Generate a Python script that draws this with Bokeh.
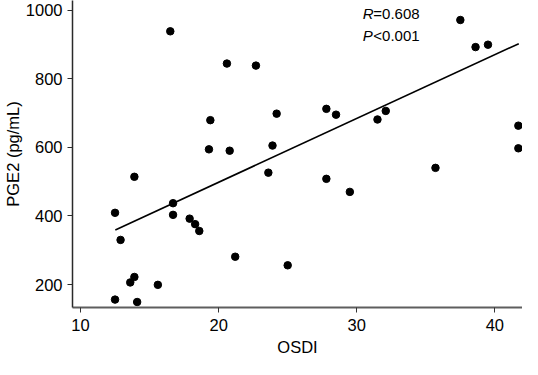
from bokeh.plotting import figure
from bokeh.models import Range1d, FixedTicker, Label, ColumnDataSource
from bokeh.embed import file_html
from bokeh.resources import INLINE

# Data
osdi = [12.5, 12.5, 12.9, 13.6, 13.9, 13.9, 14.1, 15.6, 16.5, 16.7, 16.7, 17.9,
        18.3, 18.6, 19.3, 19.4, 20.6, 20.8, 21.2, 22.7, 23.6, 23.9, 24.2, 25.0,
        27.8, 27.8, 28.5, 29.5, 31.5, 32.1, 35.7, 37.5, 38.6, 39.5, 41.7, 41.7]
pge2 = [156, 409, 330, 206, 222, 514, 149, 199, 938, 437, 403, 392,
        376, 356, 594, 679, 844, 590, 281, 838, 526, 605, 698, 256,
        712, 508, 695, 470, 681, 706, 540, 971, 892, 899, 663, 597]

fit_x = [12.52, 41.73]
fit_y = [359, 902]

x_ticks = [10, 20, 30, 40]
y_ticks = [200, 400, 600, 800, 1000]

FONT = "Liberation Sans"

p = figure(width=522, height=359, output_backend="svg", toolbar_location=None,
           x_range=Range1d(9.42, 42.0), y_range=Range1d(133, 1027.8),
           min_border_left=67, min_border_right=0, min_border_top=0,
           min_border_bottom=52)

p.outline_line_color = None
p.xgrid.visible = False
p.ygrid.visible = False
p.background_fill_color = "white"
p.border_fill_color = "white"

src = ColumnDataSource(dict(x=osdi, y=pge2))
p.scatter("x", "y", source=src, size=7.5, color="black")
p.line(fit_x, fit_y, line_color="black", line_width=1.6)

p.xaxis.ticker = FixedTicker(ticks=x_ticks)
p.yaxis.ticker = FixedTicker(ticks=y_ticks)
p.xaxis.minor_tick_line_color = None
p.yaxis.minor_tick_line_color = None

p.xaxis.axis_label = "OSDI"
p.yaxis.axis_label = "PGE2 (pg/mL)"
for ax in (p.xaxis[0], p.yaxis[0]):
    ax.axis_label_text_font = FONT
    ax.axis_label_text_font_style = "normal"
    ax.major_label_text_font = FONT
    ax.major_label_text_font_size = "16.5px"
    ax.major_label_text_color = "black"
    ax.axis_label_text_color = "black"
    ax.axis_label_text_font_size = "16.5px"
    ax.major_tick_out = 5
    ax.major_tick_in = 0

p.xaxis.major_label_standoff = 6
p.yaxis.major_label_standoff = 5
p.xaxis.axis_label_standoff = 4
p.yaxis.axis_label_standoff = 1

p.xaxis.axis_line_color = "#5e5e5e"
p.xaxis.axis_line_width = 2
p.xaxis.major_tick_line_color = "#333333"
p.yaxis.axis_line_color = "#2a2a2a"
p.yaxis.axis_line_width = 1.5
p.yaxis.major_tick_line_color = "#2a2a2a"

# Annotation text
lbl_x = 30.44
for yv, italic, rest in [(989.8, "R", "=0.608"), (924.6, "P", "<0.001")]:
    p.add_layout(Label(x=lbl_x, y=yv, text=italic, text_font=FONT,
                       text_font_style="italic", text_font_size="15px",
                       text_baseline="alphabetic", text_color="black"))
    p.add_layout(Label(x=lbl_x, y=yv, x_offset=10.5, text=rest, text_font=FONT,
                       text_font_size="15px", text_baseline="alphabetic",
                       text_color="black"))

open("out.html", "w").write(file_html(p, INLINE))
